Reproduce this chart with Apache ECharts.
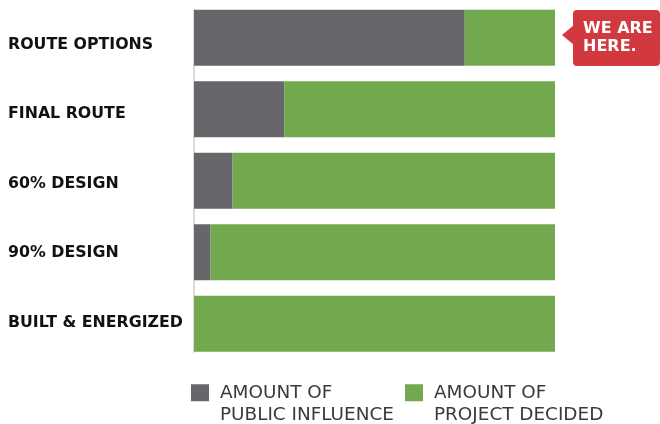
<!DOCTYPE html>
<html>
<head>
<meta charset="utf-8">
<script src="https://cdn.jsdelivr.net/npm/echarts@6/dist/echarts.min.js"></script>
<style>html,body{margin:0;padding:0;background:#fff;}#c{width:660px;height:424px;}</style>
</head>
<body>
<div id="c"></div>
<script>
var categories = ['ROUTE OPTIONS', 'FINAL ROUTE', '60% DESIGN', '90% DESIGN', 'BUILT & ENERGIZED'];
var publicInfluence = [75, 25, 10.7, 4.6, 0];
var projectDecided = [25, 75, 89.3, 95.4, 100];
var seriesNames = ['AMOUNT OF\nPUBLIC INFLUENCE', 'AMOUNT OF\nPROJECT DECIDED'];
var calloutText = 'WE ARE\nHERE.';

var chart = echarts.init(document.getElementById('c'));
var legendText = {
  fontFamily: 'DejaVu Sans', fontSize: 18.4, color: '#3a3a3a', lineHeight: 22.5, padding: [0, 0, 0, 6]
};
chart.setOption({
  animation: false,
  grid: [
    { left: 194, width: 361, top: 2, bottom: 64.5 },
    { left: 194, width: 361, top: 9.7, height: 348 },
    { left: 194, width: 361, top: 10, height: 342 }
  ],
  xAxis: [
    { type: 'value', min: 0, max: 100, show: false, gridIndex: 0 },
    { type: 'value', min: 0, max: 100, show: false, gridIndex: 1 },
    { type: 'value', min: 0, max: 100, show: false, gridIndex: 2 }
  ],
  yAxis: [
    {
      type: 'category', data: categories, inverse: true, gridIndex: 0,
      axisLine: { show: false }, axisTick: { show: false }, axisLabel: { show: false }
    },
    {
      type: 'category', data: categories, inverse: true, gridIndex: 1,
      axisLine: { show: false }, axisTick: { show: false },
      axisLabel: { align: 'left', margin: 186, color: '#111', fontWeight: 'bold', fontFamily: 'DejaVu Sans', fontSize: 15.8 }
    },
    {
      type: 'category', data: categories, inverse: true, gridIndex: 2,
      axisLine: { show: true, lineStyle: { color: '#dcdcdc', width: 2 } },
      axisTick: { show: false }, axisLabel: { show: false }
    }
  ],
  legend: [
    { data: [seriesNames[0]], left: 191, top: 359, padding: 0, itemWidth: 18, itemHeight: 17, icon: 'rect',
      formatter: function (n) { return '\n' + n; }, textStyle: legendText },
    { data: [seriesNames[1]], left: 405, top: 359, padding: 0, itemWidth: 18, itemHeight: 17, icon: 'rect',
      formatter: function (n) { return '\n' + n; }, textStyle: legendText }
  ],
  series: [
    { name: seriesNames[0], type: 'bar', stack: 's', data: publicInfluence, barWidth: 56, z: 3,
      itemStyle: { color: '#67676b' } },
    { name: seriesNames[1], type: 'bar', stack: 's', data: projectDecided, barWidth: 56, z: 3,
      itemStyle: { color: '#72a94f' } }
  ],
  graphic: [
    { type: 'rect', shape: { x: 573, y: 10, width: 87, height: 56, r: 4 }, style: { fill: '#d2393e' } },
    { type: 'polygon', shape: { points: [[574, 25], [562, 35], [574, 45]] }, style: { fill: '#d2393e' } },
    { type: 'text', left: 583, top: 20, style: { text: calloutText, fill: '#fff', fontFamily: 'DejaVu Sans', fontWeight: 'bold', fontSize: 16, lineHeight: 18 } }
  ]
});
</script>
</body>
</html>
